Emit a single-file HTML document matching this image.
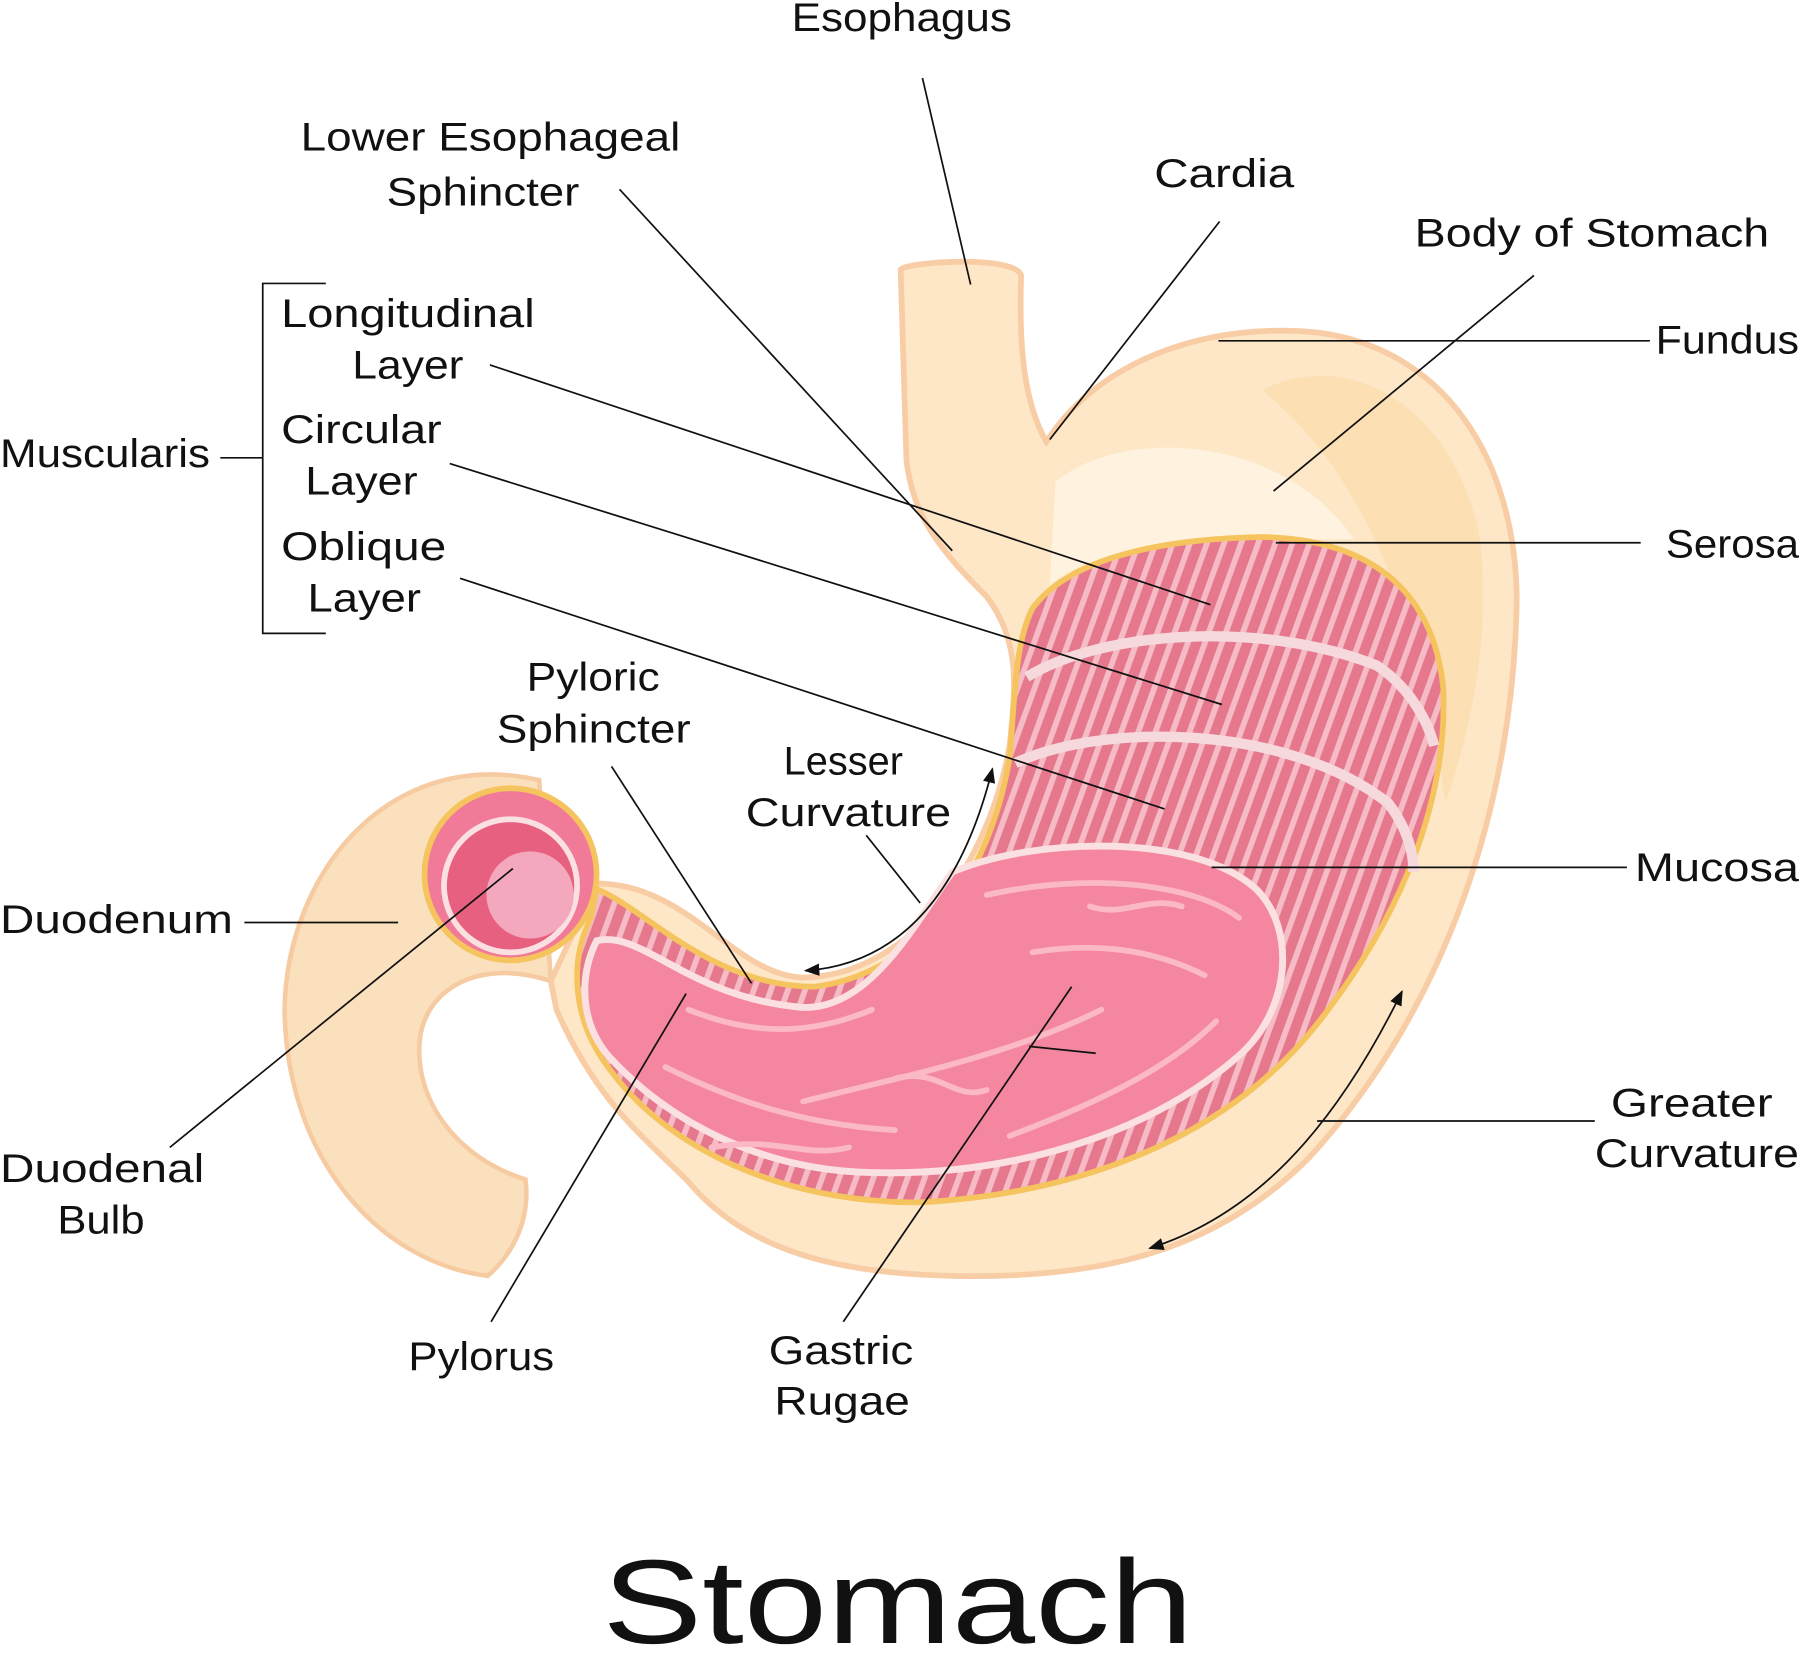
<!DOCTYPE html>
<html><head><meta charset="utf-8"><style>
html,body{margin:0;padding:0;background:#fff;}
svg{display:block;}
text{font-family:"Liberation Sans",sans-serif;fill:#111;}
</style></head><body>
<svg width="1799" height="1666" viewBox="0 0 1568 1452" xmlns="http://www.w3.org/2000/svg">
<defs>
<marker id="ah" viewBox="0 0 10 10" refX="9" refY="5" markerWidth="9" markerHeight="9" orient="auto-start-reverse"><path d="M0,1 L10,5 L0,9 z" fill="#111"/></marker>
<pattern id="stripes" width="14" height="14" patternUnits="userSpaceOnUse" patternTransform="rotate(20)"><rect width="14" height="14" fill="#e6788e"/><rect width="5" height="14" fill="#f5bcc6"/></pattern>
</defs>
<path d="M470,680 C340,650 250,760 248,880 C250,1010 330,1100 425,1112 C450,1090 462,1060 458,1028 C400,1010 360,960 366,905 C372,860 420,835 480,855 Z" fill="#fbe0bd" stroke="#f6cba2" stroke-width="4"/>
<path d="M785,235 C790,228 885,222 890,240 C888,300 892,350 912,385 C960,310 1060,280 1150,290 C1260,305 1320,400 1322,520 C1320,700 1260,880 1140,1010 C1060,1090 960,1115 830,1112 C730,1110 650,1090 600,1030 C560,990 520,960 485,880 L480,855 L520,770 C600,770 640,850 700,852 C790,850 860,760 880,650 C885,600 890,560 860,520 C820,480 795,450 790,400 Z" fill="#fde7c6" stroke="#f8cda5" stroke-width="5"/>
<path d="M1100,340 C1180,300 1270,360 1290,470 C1300,560 1280,640 1260,700 C1240,560 1200,420 1100,340 Z" fill="#fbdcaa" opacity="0.7"/>
<path d="M920,420 C980,370 1120,380 1180,470 L1100,470 C1020,470 950,480 915,510 Z" fill="#fff3df"/>
<path d="M900,530 C930,490 1000,470 1100,468 C1200,470 1250,520 1258,600 C1262,700 1220,800 1150,890 C1080,980 960,1040 800,1048 C680,1048 580,1000 530,930 C500,890 495,840 515,800 L520,775 C560,790 620,860 710,860 C790,850 860,780 880,660 C885,600 885,560 900,530 Z" fill="url(#stripes)" stroke="#f5c45e" stroke-width="5"/>
<path d="M895,590 C960,550 1100,540 1200,580 C1230,600 1245,630 1250,650" fill="none" stroke="#f6d9dc" stroke-width="9"/>
<path d="M885,665 C960,630 1120,630 1210,700 C1225,720 1232,740 1232,760" fill="none" stroke="#f6d9dc" stroke-width="9"/>
<path d="M830,760 C900,730 1040,725 1095,775 C1130,810 1125,880 1080,920 C1000,990 880,1025 760,1022 C660,1020 580,975 530,920 C505,890 505,850 520,820 C560,810 600,870 700,878 C760,880 800,800 830,760 Z" fill="#f4879f" stroke="#fbe0e2" stroke-width="6"/>
<path d="M860,780 C950,760 1040,770 1080,800 M600,880 C650,900 700,905 760,880 M700,960 C780,940 880,920 960,880 M580,930 C640,960 700,980 780,985 M880,990 C960,960 1020,930 1060,890 M900,830 C960,820 1010,830 1050,850 M620,1000 C680,990 700,1010 740,1000 M950,790 C980,800 1000,780 1030,790 M780,940 C820,930 830,960 860,950" fill="none" stroke="#fbb9c6" stroke-width="5" stroke-linecap="round"/>
<circle cx="445" cy="762" r="75" fill="#f07a97" stroke="#f5c45e" stroke-width="5"/>
<circle cx="445" cy="772" r="58" fill="#e8607f" stroke="#fbe0e2" stroke-width="5"/>
<circle cx="462" cy="780" r="38" fill="#f4a8bd"/>
<g stroke="#111" stroke-width="1.5" fill="none">
<line x1="804" y1="68" x2="846" y2="248"/>
<line x1="540" y1="165" x2="830" y2="480"/>
<line x1="1063" y1="193" x2="915" y2="383"/>
<line x1="1337" y1="240" x2="1110" y2="428"/>
<line x1="1062" y1="297" x2="1438" y2="297"/>
<line x1="1112" y1="473" x2="1430" y2="473"/>
<line x1="1056" y1="756" x2="1418" y2="756"/>
<line x1="1148" y1="977" x2="1390" y2="977"/>
<line x1="755" y1="728" x2="802" y2="787"/>
<line x1="533" y1="668" x2="655" y2="857"/>
<line x1="427" y1="318" x2="1055" y2="527"/>
<line x1="392" y1="404" x2="1065" y2="614"/>
<line x1="401" y1="504" x2="1015" y2="705"/>
<polyline points="284,247 229,247 229,552 284,552"/>
<line x1="192" y1="399" x2="229" y2="399"/>
<line x1="213" y1="804" x2="347" y2="804"/>
<line x1="148" y1="1000" x2="447" y2="757"/>
<line x1="428" y1="1152" x2="598" y2="866"/>
<line x1="735" y1="1152" x2="934" y2="860"/>
<line x1="897" y1="912" x2="955" y2="918"/>
<path d="M1222,864 C1160,990 1090,1060 1002,1088" marker-start="url(#ah)" marker-end="url(#ah)"/>
<path d="M865,670 C840,770 790,840 702,846" marker-start="url(#ah)" marker-end="url(#ah)"/>
</g>
<g font-size="35" lengthAdjust="spacingAndGlyphs">
<text x="690" y="27" textLength="192" lengthAdjust="spacingAndGlyphs">Esophagus</text>
<text x="262" y="131" textLength="331" lengthAdjust="spacingAndGlyphs">Lower Esophageal</text>
<text x="337" y="179" textLength="168" lengthAdjust="spacingAndGlyphs">Sphincter</text>
<text x="1006" y="163" textLength="122" lengthAdjust="spacingAndGlyphs">Cardia</text>
<text x="1233" y="215" textLength="309" lengthAdjust="spacingAndGlyphs">Body of Stomach</text>
<text x="1443" y="308" textLength="125" lengthAdjust="spacingAndGlyphs">Fundus</text>
<text x="1452" y="486" textLength="116" lengthAdjust="spacingAndGlyphs">Serosa</text>
<text x="1425" y="768" textLength="143" lengthAdjust="spacingAndGlyphs">Mucosa</text>
<text x="1404" y="973" textLength="141" lengthAdjust="spacingAndGlyphs">Greater</text>
<text x="1390" y="1017" textLength="178" lengthAdjust="spacingAndGlyphs">Curvature</text>
<text x="683" y="675" textLength="104" lengthAdjust="spacingAndGlyphs">Lesser</text>
<text x="650" y="720" textLength="179" lengthAdjust="spacingAndGlyphs">Curvature</text>
<text x="459" y="602" textLength="116" lengthAdjust="spacingAndGlyphs">Pyloric</text>
<text x="433" y="647" textLength="169" lengthAdjust="spacingAndGlyphs">Sphincter</text>
<text x="245" y="285" textLength="221" lengthAdjust="spacingAndGlyphs">Longitudinal</text>
<text x="307" y="330" textLength="97" lengthAdjust="spacingAndGlyphs">Layer</text>
<text x="245" y="386" textLength="140" lengthAdjust="spacingAndGlyphs">Circular</text>
<text x="266" y="431" textLength="98" lengthAdjust="spacingAndGlyphs">Layer</text>
<text x="245" y="488" textLength="144" lengthAdjust="spacingAndGlyphs">Oblique</text>
<text x="268" y="533" textLength="99" lengthAdjust="spacingAndGlyphs">Layer</text>
<text x="0" y="407" textLength="183" lengthAdjust="spacingAndGlyphs">Muscularis</text>
<text x="0" y="813" textLength="203" lengthAdjust="spacingAndGlyphs">Duodenum</text>
<text x="0" y="1030" textLength="178" lengthAdjust="spacingAndGlyphs">Duodenal</text>
<text x="50" y="1075" textLength="76" lengthAdjust="spacingAndGlyphs">Bulb</text>
<text x="356" y="1194" textLength="127" lengthAdjust="spacingAndGlyphs">Pylorus</text>
<text x="670" y="1189" textLength="126" lengthAdjust="spacingAndGlyphs">Gastric</text>
<text x="675" y="1233" textLength="118" lengthAdjust="spacingAndGlyphs">Rugae</text>
</g>
<text x="525" y="1432" font-size="104" textLength="515" lengthAdjust="spacingAndGlyphs">Stomach</text>
</svg>
</body></html>
